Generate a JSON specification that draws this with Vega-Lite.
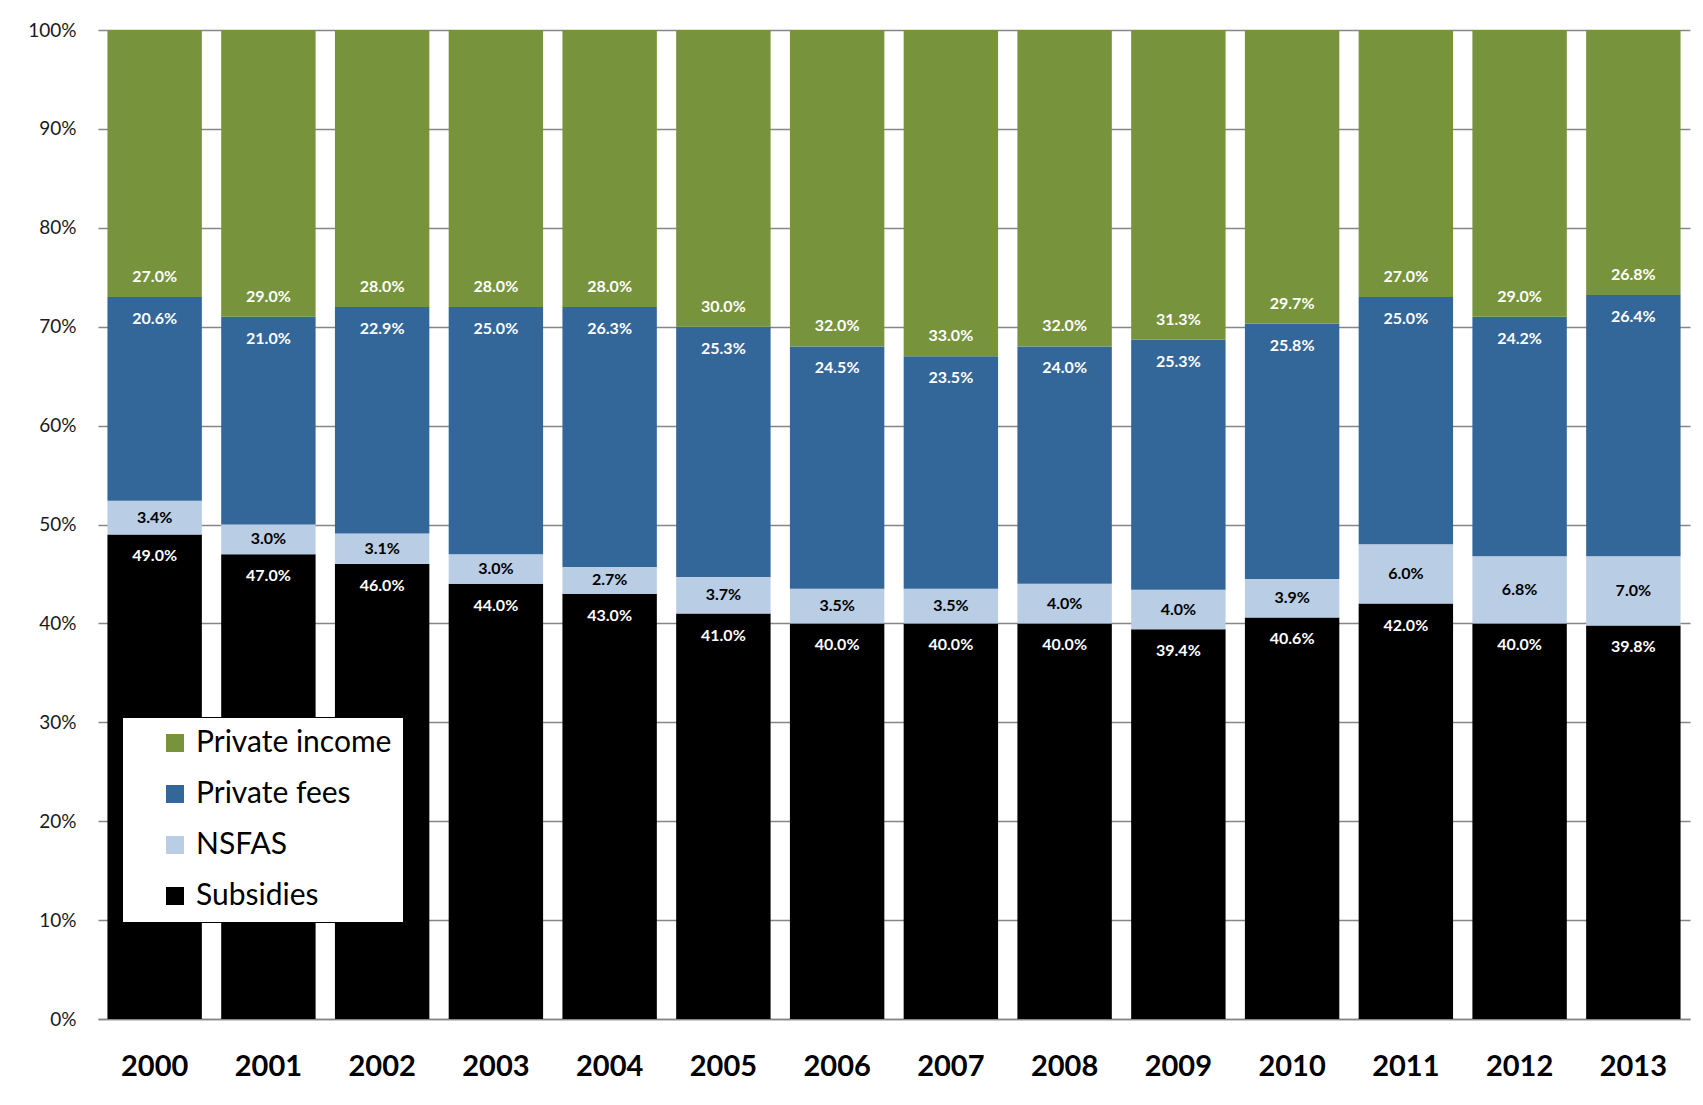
{
  "$schema": "https://vega.github.io/schema/vega-lite/v6.json",
  "width": 1592,
  "height": 989,
  "autosize": {"type": "none"},
  "padding": {"left": 98, "top": 30, "right": 13, "bottom": 86},
  "background": "white",
  "config": {"view": {"stroke": null}, "font": "Lato"},
  "data": {"values": [
    {"year": "2000", "series": "Subsidies", "ord": 1, "value": 0.490},
    {"year": "2000", "series": "NSFAS", "ord": 2, "value": 0.034},
    {"year": "2000", "series": "Private fees", "ord": 3, "value": 0.206},
    {"year": "2000", "series": "Private income", "ord": 4, "value": 0.270},
    {"year": "2001", "series": "Subsidies", "ord": 1, "value": 0.470},
    {"year": "2001", "series": "NSFAS", "ord": 2, "value": 0.030},
    {"year": "2001", "series": "Private fees", "ord": 3, "value": 0.210},
    {"year": "2001", "series": "Private income", "ord": 4, "value": 0.290},
    {"year": "2002", "series": "Subsidies", "ord": 1, "value": 0.460},
    {"year": "2002", "series": "NSFAS", "ord": 2, "value": 0.031},
    {"year": "2002", "series": "Private fees", "ord": 3, "value": 0.229},
    {"year": "2002", "series": "Private income", "ord": 4, "value": 0.280},
    {"year": "2003", "series": "Subsidies", "ord": 1, "value": 0.440},
    {"year": "2003", "series": "NSFAS", "ord": 2, "value": 0.030},
    {"year": "2003", "series": "Private fees", "ord": 3, "value": 0.250},
    {"year": "2003", "series": "Private income", "ord": 4, "value": 0.280},
    {"year": "2004", "series": "Subsidies", "ord": 1, "value": 0.430},
    {"year": "2004", "series": "NSFAS", "ord": 2, "value": 0.027},
    {"year": "2004", "series": "Private fees", "ord": 3, "value": 0.263},
    {"year": "2004", "series": "Private income", "ord": 4, "value": 0.280},
    {"year": "2005", "series": "Subsidies", "ord": 1, "value": 0.410},
    {"year": "2005", "series": "NSFAS", "ord": 2, "value": 0.037},
    {"year": "2005", "series": "Private fees", "ord": 3, "value": 0.253},
    {"year": "2005", "series": "Private income", "ord": 4, "value": 0.300},
    {"year": "2006", "series": "Subsidies", "ord": 1, "value": 0.400},
    {"year": "2006", "series": "NSFAS", "ord": 2, "value": 0.035},
    {"year": "2006", "series": "Private fees", "ord": 3, "value": 0.245},
    {"year": "2006", "series": "Private income", "ord": 4, "value": 0.320},
    {"year": "2007", "series": "Subsidies", "ord": 1, "value": 0.400},
    {"year": "2007", "series": "NSFAS", "ord": 2, "value": 0.035},
    {"year": "2007", "series": "Private fees", "ord": 3, "value": 0.235},
    {"year": "2007", "series": "Private income", "ord": 4, "value": 0.330},
    {"year": "2008", "series": "Subsidies", "ord": 1, "value": 0.400},
    {"year": "2008", "series": "NSFAS", "ord": 2, "value": 0.040},
    {"year": "2008", "series": "Private fees", "ord": 3, "value": 0.240},
    {"year": "2008", "series": "Private income", "ord": 4, "value": 0.320},
    {"year": "2009", "series": "Subsidies", "ord": 1, "value": 0.394},
    {"year": "2009", "series": "NSFAS", "ord": 2, "value": 0.040},
    {"year": "2009", "series": "Private fees", "ord": 3, "value": 0.253},
    {"year": "2009", "series": "Private income", "ord": 4, "value": 0.313},
    {"year": "2010", "series": "Subsidies", "ord": 1, "value": 0.406},
    {"year": "2010", "series": "NSFAS", "ord": 2, "value": 0.039},
    {"year": "2010", "series": "Private fees", "ord": 3, "value": 0.258},
    {"year": "2010", "series": "Private income", "ord": 4, "value": 0.297},
    {"year": "2011", "series": "Subsidies", "ord": 1, "value": 0.420},
    {"year": "2011", "series": "NSFAS", "ord": 2, "value": 0.060},
    {"year": "2011", "series": "Private fees", "ord": 3, "value": 0.250},
    {"year": "2011", "series": "Private income", "ord": 4, "value": 0.270},
    {"year": "2012", "series": "Subsidies", "ord": 1, "value": 0.400},
    {"year": "2012", "series": "NSFAS", "ord": 2, "value": 0.068},
    {"year": "2012", "series": "Private fees", "ord": 3, "value": 0.242},
    {"year": "2012", "series": "Private income", "ord": 4, "value": 0.290},
    {"year": "2013", "series": "Subsidies", "ord": 1, "value": 0.398},
    {"year": "2013", "series": "NSFAS", "ord": 2, "value": 0.070},
    {"year": "2013", "series": "Private fees", "ord": 3, "value": 0.264},
    {"year": "2013", "series": "Private income", "ord": 4, "value": 0.268}
  ]},
  "transform": [
    {"stack": "value", "groupby": ["year"], "sort": [{"field": "ord", "order": "ascending"}], "as": ["y0", "y1"]}
  ],
  "encoding": {
    "x": {
      "field": "year", "type": "ordinal",
      "scale": {"paddingInner": 0.17, "paddingOuter": 0.083},
      "axis": {
        "title": null, "labelAngle": 0, "labelFontSize": 29, "labelFontWeight": "bold",
        "labelColor": "black", "labelPadding": 33, "ticks": false,
        "domain": true, "domainColor": "#868686", "domainWidth": 1.5
      }
    }
  },
  "layer": [
    {
      "mark": {"type": "bar"},
      "encoding": {
        "y": {
          "field": "y0", "type": "quantitative",
          "scale": {"domain": [0, 1], "nice": false},
          "axis": {
            "title": null, "format": ".0%", "values": [0, 0.1, 0.2, 0.3, 0.4, 0.5, 0.6, 0.7, 0.8, 0.9, 1.0],
            "grid": true, "gridColor": "#868686", "gridWidth": 1.3, "domain": false, "ticks": false,
            "labelFontSize": 19, "labelPadding": 22, "labelColor": "#1a1a1a"
          }
        },
        "y2": {"field": "y1"},
        "color": {
          "field": "series", "type": "nominal",
          "scale": {
            "domain": ["Private income", "Private fees", "NSFAS", "Subsidies"],
            "range": ["#77933C", "#336699", "#B9CDE5", "#000000"]
          },
          "legend": {
            "orient": "none", "legendX": 24, "legendY": 687, "title": null,
            "fillColor": "white", "strokeColor": "black", "padding": 11,
            "symbolType": "square", "symbolSize": 324, "symbolStrokeWidth": 0,
            "symbolOffset": 27, "labelFontSize": 30, "labelOffset": 6, "labelLimit": 400,
            "rowPadding": 21, "labelColor": "black"
          }
        }
      }
    },
    {
      "transform": [{"filter": "datum.series === 'Subsidies' || datum.series === 'Private fees'"}],
      "mark": {"type": "text", "baseline": "top", "dy": 14, "fontSize": 16, "fontWeight": "bold", "color": "white"},
      "encoding": {
        "y": {"field": "y1", "type": "quantitative"},
        "text": {"field": "value", "type": "quantitative", "format": ".1%"}
      }
    },
    {
      "transform": [{"filter": "datum.series === 'Private income'"}],
      "mark": {"type": "text", "baseline": "bottom", "dy": -12, "fontSize": 16, "fontWeight": "bold", "color": "white"},
      "encoding": {
        "y": {"field": "y0", "type": "quantitative"},
        "text": {"field": "value", "type": "quantitative", "format": ".1%"}
      }
    },
    {
      "transform": [
        {"filter": "datum.series === 'NSFAS'"},
        {"calculate": "(datum.y0 + datum.y1) / 2", "as": "ymid"}
      ],
      "mark": {"type": "text", "baseline": "middle", "fontSize": 16, "fontWeight": "bold", "color": "black"},
      "encoding": {
        "y": {"field": "ymid", "type": "quantitative"},
        "text": {"field": "value", "type": "quantitative", "format": ".1%"}
      }
    }
  ]
}
